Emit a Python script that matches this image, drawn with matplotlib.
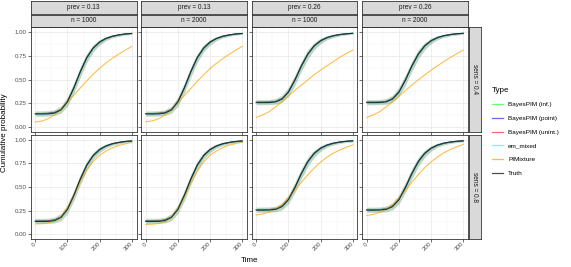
import numpy as np
import matplotlib.pyplot as plt
from matplotlib.lines import Line2D
from matplotlib.ticker import MultipleLocator

plt.rcParams['font.family'] = ['Liberation Sans', 'DejaVu Sans']

# ---- data ----
time = [0, 20, 40, 60, 80, 100, 120, 140, 160, 180, 200, 220, 240, 260, 280, 300]

truth_p13 = [0.135, 0.135, 0.136, 0.145, 0.178, 0.264, 0.412, 0.584, 0.732, 0.834, 0.897, 0.935, 0.958, 0.972, 0.982, 0.987]
truth_p26 = [0.255, 0.255, 0.256, 0.263, 0.292, 0.366, 0.493, 0.642, 0.769, 0.857, 0.911, 0.944, 0.964, 0.976, 0.984, 0.989]

bayes_p13 = [0.140, 0.140, 0.142, 0.151, 0.183, 0.267, 0.411, 0.580, 0.727, 0.830, 0.894, 0.933, 0.957, 0.971, 0.981, 0.987]
em_p13 = [0.137, 0.137, 0.138, 0.147, 0.180, 0.266, 0.413, 0.583, 0.730, 0.832, 0.896, 0.934, 0.957, 0.971, 0.981, 0.987]
bayes_p26 = [0.260, 0.260, 0.261, 0.268, 0.297, 0.370, 0.494, 0.640, 0.765, 0.853, 0.908, 0.942, 0.962, 0.975, 0.983, 0.988]
em_p26 = [0.258, 0.258, 0.259, 0.266, 0.295, 0.369, 0.494, 0.641, 0.767, 0.855, 0.910, 0.943, 0.963, 0.976, 0.984, 0.989]

# half width of the credible / confidence bands
band = [0.025, 0.025, 0.025, 0.028, 0.035, 0.045, 0.050, 0.050, 0.045, 0.035, 0.027, 0.020, 0.016, 0.013, 0.011, 0.010]
band_uninf = [0.030, 0.030, 0.030, 0.033, 0.042, 0.055, 0.060, 0.060, 0.054, 0.042, 0.032, 0.024, 0.019, 0.015, 0.013, 0.011]

pim_p13_n1000_s04 = [0.050, 0.060, 0.085, 0.125, 0.185, 0.260, 0.335, 0.410, 0.485, 0.555, 0.620, 0.675, 0.725, 0.770, 0.810, 0.850]
pim_p13_n2000_s04 = [0.052, 0.062, 0.086, 0.125, 0.183, 0.255, 0.330, 0.405, 0.480, 0.550, 0.615, 0.672, 0.722, 0.768, 0.810, 0.852]
pim_p26_n1000_s04 = [0.100, 0.125, 0.160, 0.210, 0.265, 0.325, 0.385, 0.440, 0.495, 0.550, 0.600, 0.645, 0.690, 0.735, 0.775, 0.810]
pim_p26_n2000_s04 = [0.100, 0.125, 0.160, 0.210, 0.265, 0.325, 0.383, 0.440, 0.495, 0.548, 0.598, 0.645, 0.690, 0.733, 0.773, 0.812]
pim_p13_n1000_s08 = [0.110, 0.112, 0.120, 0.140, 0.190, 0.280, 0.410, 0.555, 0.675, 0.770, 0.835, 0.880, 0.915, 0.940, 0.957, 0.972]
pim_p13_n2000_s08 = [0.105, 0.107, 0.115, 0.135, 0.180, 0.265, 0.395, 0.540, 0.665, 0.765, 0.835, 0.882, 0.918, 0.943, 0.960, 0.973]
pim_p26_n1000_s08 = [0.205, 0.215, 0.235, 0.268, 0.315, 0.385, 0.465, 0.548, 0.628, 0.700, 0.762, 0.815, 0.858, 0.893, 0.920, 0.945]
pim_p26_n2000_s08 = [0.200, 0.210, 0.232, 0.265, 0.313, 0.383, 0.465, 0.550, 0.630, 0.703, 0.765, 0.818, 0.862, 0.897, 0.925, 0.950]

prev_labels = ['prev = 0.13', 'prev = 0.13', 'prev = 0.26', 'prev = 0.26']
n_labels = ['n = 1000', 'n = 2000', 'n = 1000', 'n = 2000']
sens_labels = ['sens = 0.4', 'sens = 0.8']

types = ['BayesPIM (inf.)', 'BayesPIM (point)', 'BayesPIM (unint.)', 'em_mixed', 'PIMixture', 'Truth']
type_colors = ['#00FF00', '#0000FF', '#FF0000', '#00FFFF', '#FFA500', '#000000']
line_alpha = [0.6, 0.6, 0.6, 0.6, 0.75, 0.7]

truth_cols = [truth_p13, truth_p13, truth_p26, truth_p26]
bayes_cols = [bayes_p13, bayes_p13, bayes_p26, bayes_p26]
em_cols = [em_p13, em_p13, em_p26, em_p26]
pim_grid = [[pim_p13_n1000_s04, pim_p13_n2000_s04, pim_p26_n1000_s04, pim_p26_n2000_s04],
            [pim_p13_n1000_s08, pim_p13_n2000_s08, pim_p26_n1000_s08, pim_p26_n2000_s08]]

# ---- layout (pixels) ----
W, H = 571, 267
fig = plt.figure(figsize=(W / 100, H / 100), dpi=100)


def box(x, y, w, h):
    return [x / W, 1 - (y + h) / H, w / W, h / H]


col_left = [30.5, 141, 251.5, 362]
panel_w = 106
row_top = [27.5, 135]
panel_h = 104
edge = '#333333'
strip_fill = '#D9D9D9'
fs_strip = 4.7
fs_tick = 4.4
lw = 0.75


def strip(rect, label, rot=0):
    s = fig.add_axes(rect)
    s.set_facecolor(strip_fill)
    s.set_xticks([])
    s.set_yticks([])
    for sp in s.spines.values():
        sp.set_color(edge)
        sp.set_linewidth(0.6)
    s.text(0.5, 0.5, label, ha='center', va='center', rotation=rot,
           fontsize=fs_strip, color='#1A1A1A', transform=s.transAxes)


t = np.array(time)
b = np.array(band)
bu = np.array(band_uninf)
for r in range(2):
    for c in range(4):
        ax = fig.add_axes(box(col_left[c], row_top[r], panel_w, panel_h))
        truth = np.array(truth_cols[c])
        bayes = np.array(bayes_cols[c])
        em = np.array(em_cols[c])
        # ribbons
        ax.fill_between(t, bayes - bu, bayes + bu, color=type_colors[2], alpha=0.10, lw=0)
        ax.fill_between(t, bayes - b, bayes + b, color=type_colors[0], alpha=0.18, lw=0)
        ax.fill_between(t, bayes - b, bayes + b, color=type_colors[1], alpha=0.08, lw=0)
        ax.fill_between(t, em - b, em + b, color=type_colors[3], alpha=0.06, lw=0)
        # lines
        for k in range(3):
            ax.plot(t, bayes, color=type_colors[k], alpha=line_alpha[k], lw=lw)
        ax.plot(t, em, color=type_colors[3], alpha=line_alpha[3], lw=lw)
        ax.plot(t, pim_grid[r][c], color=type_colors[4], alpha=line_alpha[4], lw=lw)
        ax.plot(t, truth, color=type_colors[5], alpha=line_alpha[5], lw=lw)

        ax.set_xlim(-15, 315)
        ax.set_ylim(-0.05, 1.05)
        ax.xaxis.set_major_locator(MultipleLocator(100))
        ax.xaxis.set_minor_locator(MultipleLocator(50))
        ax.yaxis.set_major_locator(MultipleLocator(0.25))
        ax.yaxis.set_minor_locator(MultipleLocator(0.125))
        ax.grid(which='major', color='#EBEBEB', lw=0.6)
        ax.grid(which='minor', color='#F2F2F2', lw=0.35)
        ax.set_axisbelow(True)
        for sp in ax.spines.values():
            sp.set_color(edge)
            sp.set_linewidth(0.6)
        ax.tick_params(which='minor', length=0)
        ax.tick_params(which='major', length=2, width=0.5, color=edge,
                       labelsize=fs_tick, labelcolor='#4D4D4D', pad=1)
        if c == 0:
            ax.set_yticks([0, 0.25, 0.5, 0.75, 1.0])
            ax.set_yticklabels(['0.00', '0.25', '0.50', '0.75', '1.00'])
        else:
            ax.tick_params(axis='y', labelleft=False)
        if r == 1:
            ax.set_xticks([0, 100, 200, 300])
            ax.set_xticklabels(['0', '100', '200', '300'], rotation=45,
                               ha='right', va='center', rotation_mode='anchor')
        else:
            ax.tick_params(axis='x', labelbottom=False)

        if r == 0:
            strip(box(col_left[c], 1, panel_w, 12.5), prev_labels[c])
            strip(box(col_left[c], 14.5, panel_w, 12), n_labels[c])
    strip(box(468.5, row_top[r], 12.5, panel_h), sens_labels[r], rot=-90)

fig.text(5 / W, 1 - 133 / H, 'Cumulative probability', rotation=90,
         ha='center', va='center', fontsize=5.8, color='black')
fig.text(250 / W, 1 - 260 / H, 'Time', ha='center', va='center',
         fontsize=5.8, color='black')

handles = [Line2D([0], [0], color=col, alpha=line_alpha[k], lw=0.9)
           for k, col in enumerate(type_colors)]
leg = fig.legend(handles, types, loc='upper left', bbox_to_anchor=(489 / W, 1 - 84 / H),
                 frameon=False, title='Type', fontsize=4.6, title_fontsize=5.8,
                 handlelength=1.8, handletextpad=0.8, labelspacing=1.3,
                 alignment='left', borderaxespad=0)

fig.savefig('out.png', dpi=100)
